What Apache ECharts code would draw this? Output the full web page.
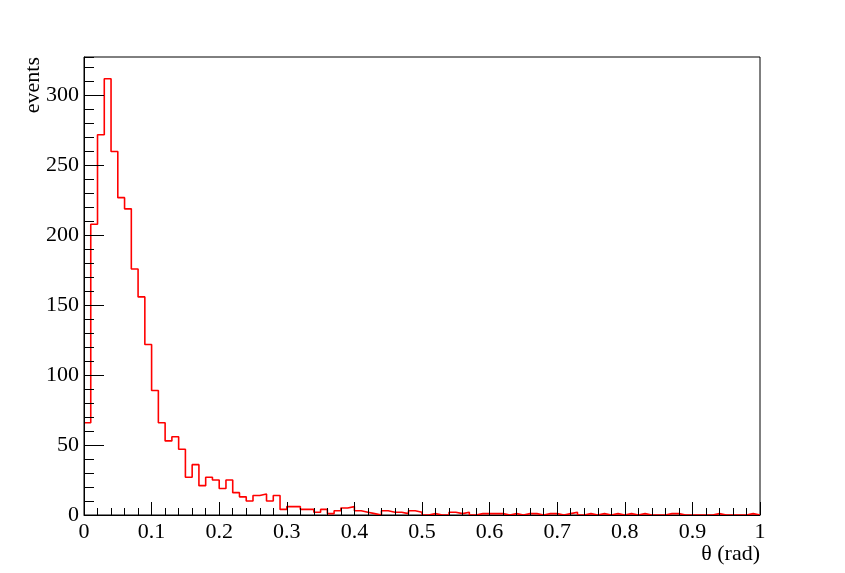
<!DOCTYPE html>
<html>
<head>
<meta charset="utf-8">
<script src="https://cdn.jsdelivr.net/npm/echarts@6/dist/echarts.min.js"></script>
<style>
  html, body { margin: 0; padding: 0; background: #fff; }
  #chart { width: 845px; height: 573px; }
</style>
</head>
<body>
<div id="chart"></div>
<script>
// theta histogram, 100 bins between 0 and 1 rad
const binLow = 0;
const binHigh = 1;
const counts = [
  66, 208, 272, 312, 260, 227, 219, 176, 156, 122,
  89, 66, 53, 56, 47, 27, 36, 21, 27, 25,
  19, 25, 16, 13, 10, 14, 15, 10, 14, 4,
  6, 6, 4, 4, 2, 4, 1, 3, 5, 6,
  3, 2, 1, 0, 3, 2, 2, 1, 3, 2,
  0, 1, 0, 0, 2, 1, 2, 0, 1, 1,
  1, 1, 0, 1, 0, 1, 1, 0, 1, 1,
  0, 1, 2, 0, 1, 0, 1, 0, 1, 0,
  1, 0, 1, 0, 0, 0, 1, 1, 0, 0,
  0, 0, 0, 1, 0, 0, 0, 0, 1, 0
];
const xTitle = 'θ (rad)';
const yTitle = 'events';

// step line: one point per lower bin edge, plus the upper edge of the last bin
const binWidth = (binHigh - binLow) / counts.length;
const stepData = counts.map((c, i) => [binLow + i * binWidth, c]);
stepData.push([binHigh, counts[counts.length - 1]]);
const yMax = Math.max(...counts) * 1.05;

const font = 'Liberation Serif';
const black = '#000';

const chart = echarts.init(document.getElementById('chart'));
chart.setOption({
  animation: false,
  grid: {
    left: 84, right: 85, top: 57, bottom: 58,
    show: true, borderColor: black, borderWidth: 1
  },
  // y title sits rotated at the top left, like ROOT does it
  graphic: [{
    type: 'text',
    x: 33, y: 57,
    rotation: Math.PI / 2,
    style: {
      text: yTitle, fill: black,
      font: '22px "Liberation Serif"',
      align: 'right', verticalAlign: 'middle'
    }
  }],
  xAxis: {
    type: 'value', min: binLow, max: binHigh, interval: 0.1, z: 5,
    name: xTitle, nameLocation: 'end', nameGap: 0,
    nameTextStyle: {
      fontFamily: font, fontSize: 22, color: black,
      align: 'right', verticalAlign: 'top', padding: [28, 0, 0, 0]
    },
    axisLine: { lineStyle: { color: black, width: 1 } },
    axisTick: { inside: true, length: 13, lineStyle: { color: black } },
    minorTick: { show: true, splitNumber: 5, length: 7, lineStyle: { color: black } },
    axisLabel: { fontFamily: font, fontSize: 22, color: black, margin: 6 },
    splitLine: { show: false }
  },
  yAxis: [
    {
      type: 'value', min: 0, max: yMax, interval: 50, position: 'left', z: 5,
      axisLine: { show: true, lineStyle: { color: black, width: 1 } },
      axisTick: { inside: true, length: 20, lineStyle: { color: black } },
      axisLabel: { fontFamily: font, fontSize: 22, color: black, margin: 5, showMaxLabel: false },
      splitLine: { show: false }
    },
    {
      // minor ticks every 10 events
      type: 'value', min: 0, max: yMax, interval: 10, position: 'left', z: 5,
      axisLine: { show: false },
      axisTick: { inside: true, length: 10, lineStyle: { color: black } },
      axisLabel: { show: false },
      splitLine: { show: false }
    }
  ],
  series: [{
    type: 'line',
    step: 'end',
    data: stepData,
    xAxisIndex: 0,
    yAxisIndex: 0,
    symbol: 'none',
    z: 2,
    lineStyle: { color: '#ff0000', width: 1.6 }
  }]
});
</script>
</body>
</html>
